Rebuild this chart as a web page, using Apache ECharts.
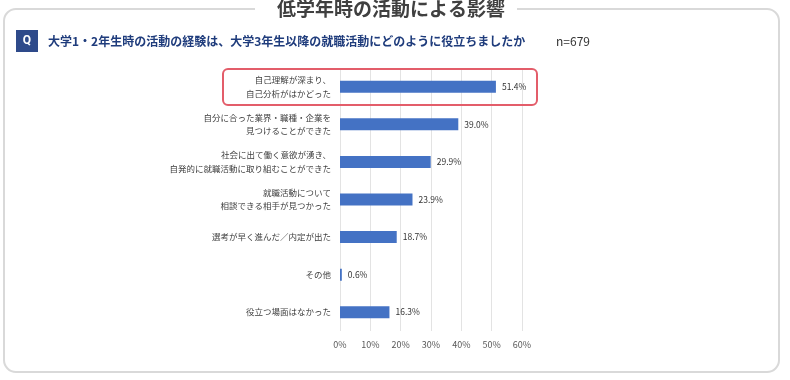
<!DOCTYPE html>
<html><head><meta charset="utf-8">
<script src="https://cdn.jsdelivr.net/npm/echarts@6/dist/echarts.min.js"></script>
<style>html,body{margin:0;padding:0;background:#fff}#c{width:790px;height:380px}</style>
</head><body><div id="c"></div>
<script>
const categories = [
  '自己理解が深まり、\n自己分析がはかどった',
  '自分に合った業界・職種・企業を\n見つけることができた',
  '社会に出て働く意欲が湧き、\n自発的に就職活動に取り組むことができた',
  '就職活動について\n相談できる相手が見つかった',
  '選考が早く進んだ／内定が出た',
  'その他',
  '役立つ場面はなかった'
];
const values = [51.4, 39.0, 29.9, 23.9, 18.7, 0.6, 16.3];
const xTicks = [0, 10, 20, 30, 40, 50, 60];
const titleText = '低学年時の活動による影響';
const questionText = '大学1・2年生時の活動の経験は、大学3年生以降の就職活動にどのように役立ちましたか';
const nText = 'n=679';

const font = '"Noto Sans CJK JP", sans-serif';
const chart = echarts.init(document.getElementById('c'), null, {renderer: 'canvas'});
chart.setOption({
  animation: false,
  textStyle: {fontFamily: font},
  grid: {left: 340, right: 268, top: 68, bottom: 49, containLabel: false},
  xAxis: {
    type: 'value', min: xTicks[0], max: xTicks[xTicks.length - 1], interval: 10,
    axisLine: {show: false}, axisTick: {show: false},
    splitLine: {lineStyle: {color: '#e3e3e3', width: 1}},
    axisLabel: {formatter: v => v + '%', color: '#595959', fontSize: 9, margin: 9, fontFamily: font}
  },
  yAxis: {
    type: 'category', data: categories, inverse: true,
    axisLine: {show: false}, axisTick: {show: false},
    axisLabel: {color: '#404040', fontSize: 8.5, lineHeight: 13.5, margin: 9, fontFamily: font, align: 'right'}
  },
  series: [{
    type: 'bar', data: values, barWidth: 12,
    itemStyle: {color: '#4472c4'},
    label: {show: true, position: 'right', distance: 6, formatter: p => p.value.toFixed(1) + '%',
      color: '#333', fontSize: 8.5, fontFamily: font}
  }],
  graphic: [
    {type: 'rect', shape: {x: 4, y: 9, width: 775, height: 363, r: 12}, z: -10,
      style: {fill: '#fff', stroke: '#d9d9d9', lineWidth: 2}},
    {type: 'rect', shape: {x: 255, y: 0, width: 262, height: 20}, z: -5, style: {fill: '#fff'}},
    {type: 'text', left: 389 - 112, top: -1, z: 10,
      style: {text: titleText, fontSize: 19, fontWeight: 'bold', fill: '#404040', fontFamily: font}},
    {type: 'rect', shape: {x: 16, y: 30, width: 22, height: 22}, style: {fill: '#2e4a8a'}},
    {type: 'text', x: 27, y: 41, style: {text: 'Q', fontSize: 12, fontWeight: 'bold', fill: '#fff',
      align: 'center', verticalAlign: 'middle', fontFamily: 'Roboto, sans-serif'}},
    {type: 'text', x: 48, y: 41, style: {text: questionText, fontSize: 12, fontWeight: 'bold', fill: '#1f3c7c',
      verticalAlign: 'middle', fontFamily: font}},
    {type: 'text', x: 556, y: 41, style: {text: nText, fontSize: 12, fill: '#333',
      verticalAlign: 'middle', fontFamily: font}},
    {type: 'rect', shape: {x: 223, y: 69, width: 314, height: 36, r: 5}, z: 20,
      style: {fill: 'none', stroke: '#e35d6a', lineWidth: 2}}
  ]
});
</script></body></html>
